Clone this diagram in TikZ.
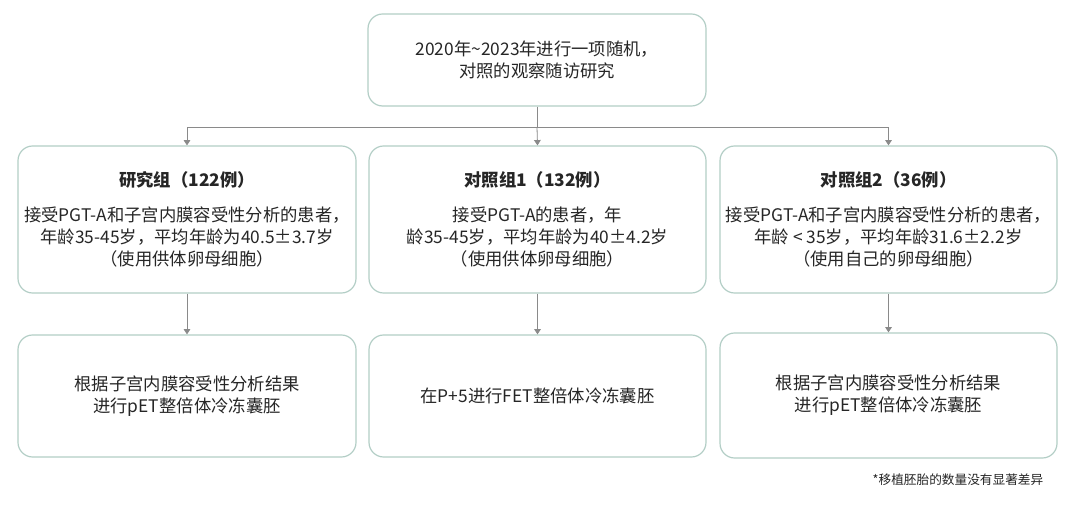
\documentclass[tikz,border=0pt]{standalone}
\usepackage{fontspec}
\setmainfont{Noto Sans CJK SC}
\usetikzlibrary{arrows.meta}
\begin{document}
\begin{tikzpicture}[x=0.75pt,y=-0.75pt,
  box/.style={draw=boxc,line width=0.9pt,rounded corners=11pt,align=center,font=\fontsize{13}{16.5}\selectfont,text=black!85,inner sep=0pt},
  conn/.style={draw=linec,line width=0.6pt,-{Triangle[width=5pt,length=4pt]}}]
\definecolor{boxc}{HTML}{B3CEC6}
\definecolor{linec}{HTML}{8A8A8A}
\useasboundingbox (0,0) rectangle (1080,509);
\fill[white] (0,0) rectangle (1080,509);
\node[box,minimum width=338*0.75pt,minimum height=92*0.75pt] (top) at (537,60) {2020年\textasciitilde2023年进行一项随机，\\对照的观察随访研究};
\node[box,minimum width=338*0.75pt,minimum height=147*0.75pt] (m1) at (187,219.5) {\textbf{研究组（122例）}\\[10pt]接受PGT-A和子宫内膜容受性分析的患者，\\年龄35-45岁，平均年龄为40.5±3.7岁\\（使用供体卵母细胞）};
\node[box,minimum width=337*0.75pt,minimum height=147*0.75pt] (m2) at (537.5,219.5) {\textbf{对照组1（132例）}\\[10pt]接受PGT-A的患者，年\\龄35-45岁，平均年龄为40±4.2岁\\（使用供体卵母细胞）};
\node[box,minimum width=337*0.75pt,minimum height=147*0.75pt] (m3) at (888.5,219.5) {\textbf{对照组2（36例）}\\[10pt]接受PGT-A和子宫内膜容受性分析的患者，\\年龄 < 35岁，平均年龄31.6±2.2岁\\（使用自己的卵母细胞）};
\node[box,minimum width=338*0.75pt,minimum height=122*0.75pt] (b1) at (187,396) {根据子宫内膜容受性分析结果\\进行pET整倍体冷冻囊胚};
\node[box,minimum width=337*0.75pt,minimum height=122*0.75pt] (b2) at (537.5,396) {在P+5进行FET整倍体冷冻囊胚};
\node[box,minimum width=337*0.75pt,minimum height=125*0.75pt] (b3) at (888.5,395.5) {根据子宫内膜容受性分析结果\\进行pET整倍体冷冻囊胚};
\node[font=\fontsize{9.5}{11}\selectfont,text=black!85,anchor=east] (note) at (1048,480) {*移植胚胎的数量没有显著差异};
\coordinate (j) at (537,127);
\draw[draw=linec,line width=0.6pt] (top.south) -- (j);
\draw[conn] (j) -| (m1.north);
\draw[conn] (j) -- (m2.north);
\draw[conn] (j) -| (m3.north);
\draw[conn] (m1) -- (b1);
\draw[conn] (m2) -- (b2);
\draw[conn] (m3) -- (b3);
\end{tikzpicture}
\end{document}
